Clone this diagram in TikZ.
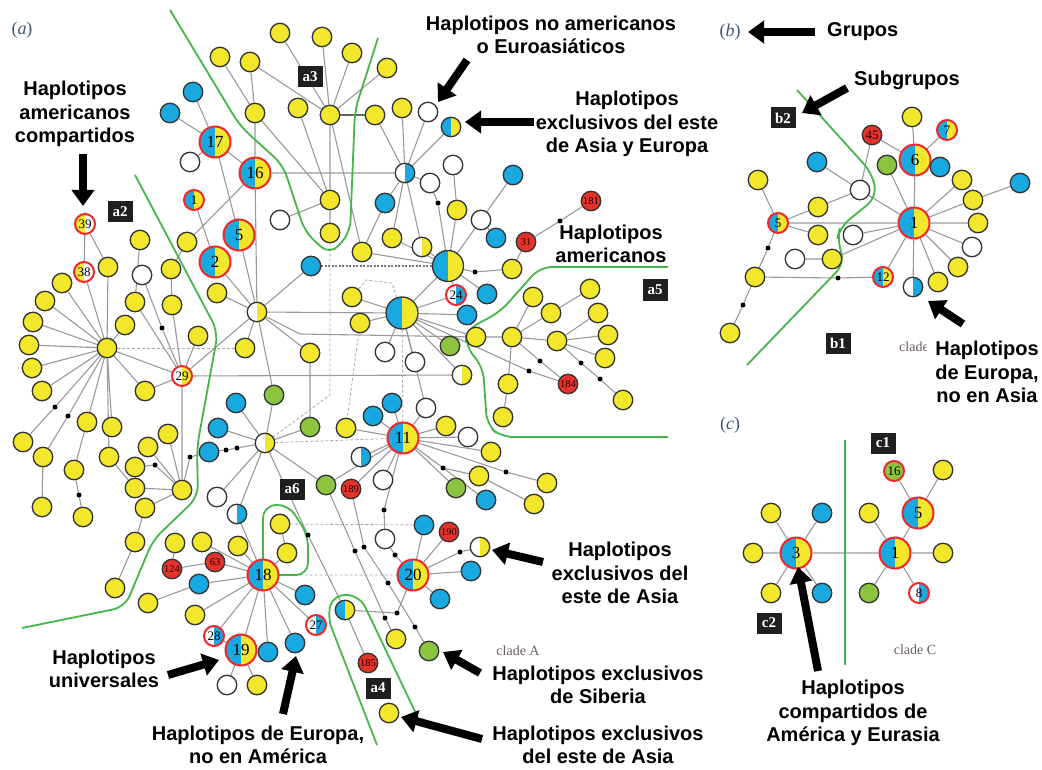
\documentclass[tikz,border=0pt]{standalone}
\usepackage{fontspec}
\setmainfont{Liberation Sans}
\newfontfamily\numserif{Liberation Serif}
\usetikzlibrary{arrows.meta,backgrounds}

\definecolor{cyel}{HTML}{F2E72A}
\definecolor{cblu}{HTML}{18A9E1}
\definecolor{cgrn}{HTML}{8CC43F}
\definecolor{cred}{HTML}{E5322B}
\definecolor{cring}{HTML}{F0262B}
\definecolor{ndraw}{HTML}{333333}
\definecolor{cedge}{HTML}{999999}
\definecolor{cgline}{HTML}{45B649}
\definecolor{ctitle}{HTML}{3F5475}
\definecolor{cclade}{HTML}{6A5D5A}

\newcommand\fnbig{\numserif\fontsize{17}{17}\selectfont}
\newcommand\fnsm{\numserif\fontsize{13}{13}\selectfont}
\newcommand\fnred{\numserif\fontsize{10.5}{10.5}\selectfont}
\newcommand\fnbox{\numserif\bfseries\fontsize{15}{15}\selectfont}
\newcommand\fntitle{\numserif\fontsize{18}{18}\selectfont}
\newcommand\fnclade{\numserif\fontsize{14}{14}\selectfont}
\newcommand\fnlab{\bfseries\fontsize{20}{23.5}\selectfont}

\tikzset{
  hap/.style={circle, draw=ndraw, line width=1.3pt, minimum size=19.5pt, inner sep=0pt},
  hY/.style={hap, fill=cyel},
  hB/.style={hap, fill=cblu},
  hG/.style={hap, fill=cgrn},
  hW/.style={hap, fill=white},
  hR/.style={hap, fill=cred, font=\fnred, text=black!85!red},
  lhalf/.style={path picture={\fill[#1] (path picture bounding box.south west) rectangle (path picture bounding box.north);}},
  rhalf/.style={path picture={\fill[#1] (path picture bounding box.south east) rectangle (path picture bounding box.north);}},
  hBY/.style={hap, fill=cyel, lhalf=cblu},
  hWB/.style={hap, fill=white, rhalf=cblu},
  hWY/.style={hap, fill=white, rhalf=cyel},
  hYW/.style={hap, fill=white, lhalf=cyel},
  ring/.style={draw=cring, line width=2pt},
  bigr/.style={minimum size=31pt, font=\fnbig},
  smr/.style={minimum size=20pt, font=\fnsm},
  mdot/.style={circle, fill=black, inner sep=0pt, minimum size=5pt},
  lnk/.style={draw=cedge, line width=1.1pt},
  dlnk/.style={draw=cedge!85, line width=0.8pt, dash pattern=on 3pt off 2pt},
  glin/.style={draw=cgline, line width=1.8pt, rounded corners=12pt},
  tag/.style={fill=black!88, text=white, font=\fnbox, inner sep=0pt, minimum width=25pt, minimum height=21pt},
  lab/.style={font=\fnlab, align=center, inner sep=1pt},
  bigarrow/.style={line width=8pt, -{Triangle[length=16pt,width=22pt]}},
}

\begin{document}
\begin{tikzpicture}[x=1pt,y=-1pt]
\useasboundingbox (0,0) rectangle (1042,770);

% ================= panel (a): haplotypes =================
% upper group
\node[hY] (t1) at (280,33) {};
\node[hY] (t2) at (322,37) {};
\node[hY] (t3) at (352,53) {};
\node[hY] (t4) at (387,68) {};
\node[hY] (t5) at (220,57) {};
\node[hY] (t6) at (250,62) {};
\node[hY] (t7) at (255,113) {};
\node[hY] (t8) at (298,108) {};
\node[hY] (h1) at (330,115) {};
\node[hY] (t9) at (375,115) {};
\node[hY] (t10) at (402,108) {};
\node[hW] (w1) at (428,112) {};
\node[hBY] (hb1) at (451,127) {};
\node[hB] (b1) at (193,92) {};
\node[hB] (b2) at (170,113) {};
\node[hBY,ring,bigr] (n17) at (215,142) {17};
\node[hW] (w2) at (190,162) {};
\node[hBY,ring,bigr] (n16) at (255,173) {16};
\node[hBY,ring,smr] (n1) at (194,200) {1};
\node[hBY,ring,bigr] (n5) at (239,235) {5};
\node[hBY,ring,bigr] (n2) at (215,262) {2};
\node[hY] (y1) at (140,240) {};
\node[hY] (y2) at (187,242) {};
\node[hYW,ring,smr] (n39) at (85,224) {39};
\node[hYW,ring,smr] (n38) at (84,272) {38};
\node[hWB] (wb1) at (405,173) {};
\node[hW] (w3) at (453,165) {};
\node[hW] (w4) at (430,183) {};
\node[mdot] (d1) at (438,203) {};
\node[hB] (b3) at (385,203) {};
\node[hY] (y3) at (330,200) {};
\node[hY] (y4) at (330,233) {};
\node[hW] (w5) at (280,220) {};
\node[hY] (y5) at (457,210) {};
\node[hW] (w6) at (481,220) {};
\node[hB] (b4) at (496,238) {};
\node[hB] (b5) at (513,175) {};
\node[hR] (r31) at (526,242) {31};
\node[hR] (r181) at (591,201) {181};
\node[mdot] (d2) at (560,221) {};
\node[hY] (y6) at (392,238) {};
\node[hWY] (wy1) at (422,247) {};
\node[hY] (y7) at (362,252) {};
\node[hBY,minimum size=31pt] (H2) at (448,266) {};
\node[hB] (b6) at (311,266) {};
\node[mdot] (d3) at (475,272) {};
\node[hWB,ring,smr] (n24) at (456,295) {24};
\node[hB] (b7) at (487,294) {};
\node[hB] (b8) at (467,315) {};
\node[hY] (y8) at (512,269) {};
\node[hBY,minimum size=32pt] (H1) at (402,313) {};
\node[hY] (y9) at (352,297) {};
\node[hY] (y10) at (360,323) {};
\node[hWY] (wy2) at (257,312) {};
\node[hY] (y11) at (217,293) {};
\node[hY] (y12) at (245,348) {};
\node[hY] (y13) at (310,353) {};
\node[hW] (w8) at (385,352) {};
\node[hW] (w9) at (415,362) {};
\node[hG] (g1) at (450,346) {};
\node[hY] (y14) at (476,337) {};
\node[hWY] (wy3) at (462,375) {};

% right group (a5)
\node[hY] (y15) at (512,337) {};
\node[hY] (y16) at (533,297) {};
\node[hY] (y17) at (551,313) {};
\node[hY] (y18) at (557,341) {};
\node[hY] (y19) at (590,289) {};
\node[hY] (y20) at (598,313) {};
\node[hY] (y21) at (608,335) {};
\node[hY] (y22) at (605,358) {};
\node[mdot] (d4) at (540,361) {};
\node[mdot] (d5) at (529,371) {};
\node[mdot] (d6) at (581,363) {};
\node[mdot] (d7) at (600,379) {};
\node[hR] (r184) at (568,384) {184};
\node[hY] (y23) at (508,384) {};
\node[hY] (y24) at (503,417) {};
\node[hY] (y25) at (623,400) {};

% left group (a2)
\node[hY] (y26) at (108,267) {};
\node[hW] (w10) at (142,275) {};
\node[hY] (y27) at (171,269) {};
\node[hY] (y28) at (62,283) {};
\node[hY] (y29) at (45,301) {};
\node[hY] (y30) at (33,322) {};
\node[hY] (y31) at (29,345) {};
\node[hY] (y32) at (32,368) {};
\node[hY] (y33) at (42,391) {};
\node[hY] (hubL) at (107,348) {};
\node[hY] (y34) at (135,302) {};
\node[hY] (y35) at (172,305) {};
\node[hY] (y36) at (125,325) {};
\node[mdot] (d8) at (162,328) {};
\node[hY] (y37) at (198,336) {};
\node[hWY,ring,smr] (n29) at (182,376) {29};
\node[hY] (y38) at (145,391) {};
\node[mdot] (d9) at (55,407) {};
\node[mdot] (d10) at (68,416) {};
\node[hY] (y40) at (23,442) {};
\node[hY] (y41) at (43,457) {};
\node[hY] (y42) at (87,422) {};
\node[hY] (y43) at (112,427) {};
\node[hY] (y44) at (74,470) {};
\node[mdot] (d11) at (79,495) {};
\node[hY] (y45) at (109,457) {};
\node[hY] (y46) at (148,447) {};
\node[hY] (y47) at (168,434) {};
\node[hY] (y48) at (135,467) {};
\node[mdot] (d12) at (155,465) {};
\node[hY] (y49) at (135,488) {};
\node[hY] (y50) at (182,490) {};
\node[mdot] (d13) at (190,457) {};

% middle group
\node[hB] (b9) at (236,403) {};
\node[hB] (b10) at (218,428) {};
\node[hB] (b11) at (209,452) {};
\node[mdot] (d14) at (226,450) {};
\node[mdot] (d15) at (237,448) {};
\node[hWY] (wy4) at (265,443) {};
\node[hW] (w11) at (217,497) {};
\node[hG] (g2) at (274,395) {};
\node[hG] (g3) at (310,427) {};
\node[hY] (y51) at (346,428) {};
\node[hB] (b12) at (373,416) {};
\node[hB] (b13) at (392,403) {};
\node[hW] (w12) at (426,408) {};
\node[hBY,ring,bigr] (n11) at (403,438) {11};
\node[hY] (y52) at (446,426) {};
\node[hW] (w13) at (468,437) {};
\node[hY] (y53) at (491,452) {};
\node[hWB] (wb2) at (361,457) {};
\node[mdot] (d16) at (443,468) {};
\node[hY] (y54) at (479,476) {};
\node[hG] (g4) at (456,488) {};
\node[hW] (w14) at (383,480) {};
\node[hG] (g5) at (326,485) {};
\node[hR] (r189) at (351,489) {189};
\node[hB] (b14) at (486,500) {};
\node[mdot] (d17) at (506,472) {};
\node[hY] (y56) at (547,483) {};
\node[hY] (y57) at (534,504) {};

% lower group
\node[hY] (y59) at (42,507) {};
\node[hY] (y60) at (83,517) {};
\node[hY] (y61) at (145,508) {};
\node[hWB] (wb3) at (237,514) {};
\node[hY] (y62) at (135,542) {};
\node[hY] (y63) at (175,543) {};
\node[hY] (y64) at (202,542) {};
\node[hY] (y65) at (238,546) {};
\node[hR] (r124) at (172,569) {124};
\node[hR] (r63) at (215,562) {63};
\node[hB] (b15) at (199,584) {};
\node[hBY,ring,bigr] (n18) at (263,575) {18};
\node[hY] (y66) at (115,588) {};
\node[hY] (y67) at (148,603) {};
\node[hY] (y68) at (195,615) {};
\node[hWB,ring,smr] (n28) at (214,636) {28};
\node[hBY,ring,bigr] (n19) at (241,650) {19};
\node[hW] (w15) at (227,685) {};
\node[hY] (y69) at (257,685) {};
\node[hY] (y70) at (280,524) {};
\node[hY] (y71) at (287,553) {};
\node[mdot] (d18) at (308,535) {};
\node[hB] (b16) at (305,595) {};
\node[hWB,ring,smr] (n27) at (316,625) {27};
\node[hB] (b17) at (295,643) {};
\node[hB] (b18) at (268,652) {};
\node[hBY] (hb2) at (345,610) {};
\node[hR] (r185) at (368,663) {185};
\node[hY] (y72) at (389,713) {};
\node[hY] (y73) at (396,639) {};
\node[hG] (g6) at (429,651) {};
\node[hW] (w16) at (385,539) {};
\node[hB] (b19) at (424,525) {};
\node[hR] (r190) at (449,532) {190};
\node[hBY,ring,bigr] (n20) at (413,575) {20};
\node[hWY] (wy5) at (480,547) {};
\node[hB] (b20) at (471,571) {};
\node[hB] (b21) at (440,599) {};
\node[mdot] (dA) at (355,551) {};
\node[mdot] (dB) at (364,547) {};
\node[mdot] (dC) at (395,555) {};
\node[mdot] (dD) at (388,583) {};
\node[mdot] (dF) at (385,618) {};
\node[mdot] (dG) at (397,613) {};
\node[mdot] (dH) at (415,627) {};
\node[mdot] (dI) at (384,510) {};
\node[mdot] (dJ) at (460,552) {};

% bends of the grid lines
\coordinate (cA) at (300,334);
\coordinate (k1) at (366,280);
\coordinate (k2) at (392,283);
\coordinate (k3) at (330,395);
\coordinate (k4) at (458,456);

% ================= panel (b) =================
\node[hY] (bY1) at (912,117) {};
\node[hBY,ring,smr] (b7n) at (947,130) {7};
\node[hR,font=\fnsm] (b45) at (872,135) {45};
\node[hBY,ring,bigr] (b6n) at (915,160) {6};
\node[hG] (bG1) at (887,165) {};
\node[hB] (bB1) at (940,167) {};
\node[hB] (bB2) at (817,162) {};
\node[hY] (bY2) at (758,180) {};
\node[hW] (bW1) at (860,190) {};
\node[hY] (bY3) at (962,180) {};
\node[hY] (bY4) at (973,200) {};
\node[hB] (bB3) at (1020,183) {};
\node[hY] (bY5) at (818,207) {};
\node[hBY,ring,smr] (b5n) at (778,223) {5};
\node[hBY,ring,bigr] (b1n) at (914,223) {1};
\node[hY] (bY6) at (978,223) {};
\node[hY] (bY7) at (818,235) {};
\node[hW] (bW2) at (853,235) {};
\node[hW] (bW3) at (795,259) {};
\node[hY] (bY8) at (832,259) {};
\node[hW] (bW4) at (972,247) {};
\node[hY] (bY9) at (958,267) {};
\node[hY] (bY10) at (938,282) {};
\node[hBY,ring,smr] (b12n) at (883,277) {12};
\node[hWB] (bWB) at (913,287) {};
\node[hY] (bY11) at (755,277) {};
\node[mdot] (bd1) at (768,248) {};
\node[mdot] (bd2) at (838,278) {};
\node[mdot] (bd3) at (743,305) {};
\node[hY] (bY12) at (730,333) {};

% ================= panel (c) =================
\node[hBY,ring,bigr] (c3) at (796,553) {3};
\node[hY] (cY1) at (771,513) {};
\node[hB] (cB1) at (822,513) {};
\node[hY] (cY2) at (753,553) {};
\node[hY] (cY3) at (771,593) {};
\node[hB] (cB2) at (822,593) {};
\node[hBY,ring,bigr] (c1n) at (895,553) {1};
\node[hY] (cY4) at (869,513) {};
\node[hBY,ring,bigr] (c5n) at (918,513) {5};
\node[hG,ring,smr] (c16) at (894,471) {16};
\node[hY] (cY5) at (943,470) {};
\node[hY] (cY6) at (943,553) {};
\node[hG] (cG1) at (869,593) {};
\node[hWB,ring,smr] (c8) at (919,593) {8};

% ================= links (behind the haplotypes) =================
\begin{scope}[on background layer]
% upper group
\draw[lnk] (h1)--(t1) (h1)--(t2) (h1)--(t3) (h1)--(t4) (h1)--(t6) (t6)--(t7) (t5)--(t7)
  (t7)--(y3) (t8)--(y3) (h1)--(y3) (y3)--(y4) (w5)--(y3) (h1)--(y7) (t7)--(n16);
\draw[lnk, draw=black!60, line width=1.6pt] (h1)--(t9);
\draw[lnk] (t10)--(wb1) (w1)--(wb1) (hb1)--(wb1) (t9)--(wb1) (n16)--(wb1) (wb1)--(b3)
  (wb1)--(y6) (wb1)--(wy1) (wb1)--(w4) (w3)--(y5) (y5)--(H2) (w4)--(d1)--(H2)
  (b5)--(w6) (w6)--(b4) (w6)--(H2) (r181)--(d2)--(r31) (r31)--(y8) (y8)--(d3)--(H2)
  (H2)--(wy1) (H2)--(y7) (H2)--(n24) (H2)--(b7) (H2)--(H1) (H2)--(y6) (b3)--(y7);
\draw[lnk, dash pattern=on 2pt off 1.5pt, draw=black!55] (b6)--(H2);
% central hub
\draw[lnk] (H1)--(y9) (H1)--(y10) (H1)--(n24) (H1)--(b8) (H1)--(w8) (H1)--(w9) (H1)--(g1)
  (H1)--(y14) (H1)--(wy2) (H1)--(wy3) (H1)--(d5)--(r184) (H1)--(w12);
\draw[dlnk] (y9)--(k1)--(k2)--(H1);
% right group
\draw[lnk] (y14)--(y15) (y15)--(y16) (y15)--(y17) (y15)--(y18) (y15)--(y23) (y23)--(y24)
  (y17)--(y19) (y18)--(y20) (y18)--(y21) (y18)--(y22) (y18)--(d6)--(d7)--(y25)
  (y15)--(d4)--(r184);
% upper left
\draw[lnk] (wy2)--(n2) (wy2)--(n5) (wy2)--(n16) (wy2)--(y11) (wy2)--(y12) (wy2)--(b6)
  (wy2)--(y13) (wy2)--(g2) (n1)--(n2) (n17)--(n5) (n17)--(b1) (n17)--(b2) (n17)--(w2)
  (n17)--(n16) (n16)--(y2) (y2)--(y27) (y1)--(y34) (wy2)--(cA)--(y14);
% left group
\draw[lnk] (hubL)--(n38) (hubL)--(y26) (hubL)--(y28) (hubL)--(y29) (hubL)--(y30)
  (hubL)--(y31) (hubL)--(y32) (hubL)--(y33) (hubL)--(d9)--(y40) (hubL)--(d10)--(y41)
  (hubL)--(y42) (hubL)--(y43) (hubL)--(y45) (hubL)--(y38) (hubL)--(y36) (hubL)--(n29)
  (hubL)--(y44) (n39)--(n38) (n39)--(y26)
  (n29)--(y34) (n29)--(y35) (n29)--(d8)--(w10) (n29)--(y37) (n29)--(wy2) (n29)--(y50)
  (n29)--(y38) (y27)--(y35) (n29)--(wy3)
  (y44)--(d11)--(y60) (y41)--(y59) (y45)--(y49) (y46)--(y50) (y47)--(y50)
  (y48)--(d12)--(y50) (y49)--(y50) (y50)--(d13)--(b11) (y50)--(y61) (y61)--(y62) (y62)--(y66);
\draw[dlnk] (hubL)--(y12);
% lower left
\draw[lnk] (y63)--(r124) (r124)--(r63) (r63)--(n18) (y64)--(n18) (y65)--(n18) (wb3)--(n18)
  (wb3)--(wy4) (w11)--(wy4) (b15)--(n18) (y67)--(b15) (y68)--(n18) (n28)--(n18) (n19)--(n18)
  (n19)--(n28) (n19)--(w15) (n19)--(y69) (b18)--(n18) (b17)--(n18) (b16)--(n18) (n27)--(n18)
  (y71)--(n18) (y70)--(y71);
% middle
\draw[lnk] (wy4)--(b9) (wy4)--(b10) (wy4)--(d15)--(d14)--(b11) (wy4)--(g2) (wy4)--(g3)
  (wy4)--(d18)--(hb2) (wy4)--(g5) (y13)--(g3)
  (n11)--(b12) (n11)--(b13) (n11)--(w12) (n11)--(y52) (n11)--(w13) (n11)--(y53)
  (n11)--(d16)--(y54) (n11)--(g4) (n11)--(b14) (n11)--(w14) (n11)--(wb2) (n11)--(y51)
  (n11)--(g5) (n11)--(r189) (n11)--(dI)--(w16)
  (n11)--(k4)--(d17)--(y56) (y54)--(y57);
\draw[dlnk] (wy4)--(n11) (H1)--(n11) (y10)--(y51) (y4)--(k3)--(wy4)
  (y70)--(b19) (n18)--(n20);
% lower middle
\draw[lnk] (g5)--(dA)--(dF)--(y73) (r189)--(dB)--(dD)--(dH)--(g6) (w16)--(dC)--(n20)
  (hb2)--(dG)--(n20) (n20)--(dJ)--(wy5) (hb2)--(r185)
  (n20)--(b21) (n20)--(b20) (n20)--(r190) (n20)--(b19);

% panel (b)
\draw[lnk] (b1n)--(b6n) (b6n)--(b45) (b6n)--(bY1) (b6n)--(b7n) (b6n)--(bB1) (b1n)--(bG1)
  (b1n)--(bY3) (b1n)--(bY4) (b1n)--(bY6) (b1n)--(bW4) (b1n)--(bY9) (b1n)--(bY10)
  (b1n)--(bWB) (b1n)--(b12n) (b1n)--(bW2) (b1n)--(bY8) (b1n)--(b5n) (b1n)--(bW1)
  (bW1)--(b45) (bW1)--(bB2) (bW1)--(bY5) (b5n)--(bY2) (b5n)--(bY5) (b5n)--(bY7)
  (b5n)--(bd1)--(bY11) (bY11)--(bd2)--(b12n) (bY11)--(bd3)--(bY12) (bW3)--(bY8) (bY4)--(bB3);

% panel (c)
\draw[lnk] (c3)--(cY1) (c3)--(cB1) (c3)--(cY2) (c3)--(cY3) (c3)--(cB2) (c3)--(c1n)
  (c1n)--(cY4) (c1n)--(c5n) (c1n)--(cY6) (c1n)--(cG1) (c1n)--(c8) (c5n)--(c16) (c5n)--(cY5);

% group boundaries
\draw[glin] (170,10) -- (240,126) -- (283,165) -- (305,232) -- (330,255) -- (350,233) -- (355,110) -- (378,38);
\draw[glin] (135,175) -- (218,332) -- (197,447) -- (198,497) -- (153,540) -- (125,607) -- (22,628);
\draw[glin] (668,267) -- (540,267) -- (500,312) -- (466,330) -- (466,347) -- (483,367) -- (487,425) -- (501,437) -- (668,437);
\draw[glin] (263,545) -- (263,506) -- (288,504) -- (308,535) -- (308,575) -- (263,575) -- cycle;
\draw[glin] (377,745) -- (327,616) -- (334,594) -- (360,596) -- (420,722);
\draw[glin] (797,90) -- (872,173) -- (877,197) -- (840,227) -- (837,240) -- (845,263) -- (747,365);
\draw[draw=cgline, line width=1.8pt] (845,440) -- (845,665);
\end{scope}

% ================= group tags =================
\node[tag] (ta2) at (120,212) {a2};
\node[tag] (ta3) at (310,77) {a3};
\node[tag] (ta5) at (655,290) {a5};
\node[tag] (ta6) at (292,489) {a6};
\node[tag] (ta4) at (378,688) {a4};
\node[tag] (tb2) at (783,118) {b2};
\node[tag] (tb1) at (838,343) {b1};
\node[tag] (tc1) at (883,443) {c1};
\node[tag] (tc2) at (769,623) {c2};

% panel titles and clade names
\node[font=\fntitle, text=ctitle] (pa) at (22,30) {(\textit{a})};
\node[font=\fntitle, text=ctitle] (pb) at (730,32) {(\textit{b})};
\node[font=\fntitle, text=ctitle] (pc) at (730,425) {(\textit{c})};
\node[font=\fnclade, text=cclade] (cla) at (518,651) {clade A};
\node[font=\fnclade, text=cclade, anchor=west, inner sep=0pt] (clb) at (899,347) {clade};
\node[font=\fnclade, text=cclade] (clc) at (915,650) {clade C};

% ================= annotations =================
\node[lab] (L1) at (75,114) {Haplotipos\\americanos\\compartidos};
\node[lab] (L2) at (551,35) {Haplotipos no americanos\\o Euroasiáticos};
\node[lab] (L3) at (627,124) {Haplotipos\\exclusivos del este\\de Asia y Europa};
\node[lab] (L4) at (611,244) {Haplotipos\\americanos};
\node[lab] (L5) at (104,669) {Haplotipos\\universales};
\node[lab] (L6) at (258,745) {Haplotipos de Europa,\\no en América};
\node[lab] (L7) at (620,573) {Haplotipos\\exclusivos del\\este de Asia};
\node[lab] (L8) at (598,685) {Haplotipos exclusivos\\de Siberia};
\node[lab] (L9) at (598,745) {Haplotipos exclusivos\\del este de Asia};
\node[lab, anchor=west] (L10) at (826,32) {Grupos};
\node[lab] (L11) at (907,80) {Subgrupos};
\node[lab, fill=white, inner xsep=8pt, inner ysep=3pt] (L12) at (987,372) {Haplotipos\\de Europa,\\no en Asia};
\node[lab] (L13) at (853,713) {Haplotipos\\compartidos de\\América y Eurasia};

% arrow ends
\coordinate (a1s) at (83,154);  \coordinate (a1e) at (83,206);
\coordinate (a2s) at (467,60);  \coordinate (a2e) at (438,102);
\coordinate (a3s) at (534,122); \coordinate (a3e) at (465,122);
\coordinate (a4s) at (168,675); \coordinate (a4e) at (219,660);
\coordinate (a5s) at (283,714); \coordinate (a5e) at (296,656);
\coordinate (a6s) at (482,739); \coordinate (a6e) at (401,717);
\coordinate (a7s) at (480,673); \coordinate (a7e) at (443,652);
\coordinate (a8s) at (543,562); \coordinate (a8e) at (492,550);
\coordinate (a9s) at (815,32);  \coordinate (a9e) at (748,32);
\coordinate (a10s) at (847,88); \coordinate (a10e) at (802,113);
\coordinate (a11s) at (963,324); \coordinate (a11e) at (928,301);
\coordinate (a12s) at (818,671); \coordinate (a12e) at (798,567);

\draw[bigarrow] (a1s) -- (a1e);
\draw[bigarrow] (a2s) -- (a2e);
\draw[bigarrow] (a3s) -- (a3e);
\draw[bigarrow] (a4s) -- (a4e);
\draw[bigarrow] (a5s) -- (a5e);
\draw[bigarrow] (a6s) -- (a6e);
\draw[bigarrow] (a7s) -- (a7e);
\draw[bigarrow] (a8s) -- (a8e);
\draw[bigarrow] (a9s) -- (a9e);
\draw[bigarrow] (a10s) -- (a10e);
\draw[bigarrow] (a11s) -- (a11e);
\draw[bigarrow] (a12s) -- (a12e);
\end{tikzpicture}
\end{document}
